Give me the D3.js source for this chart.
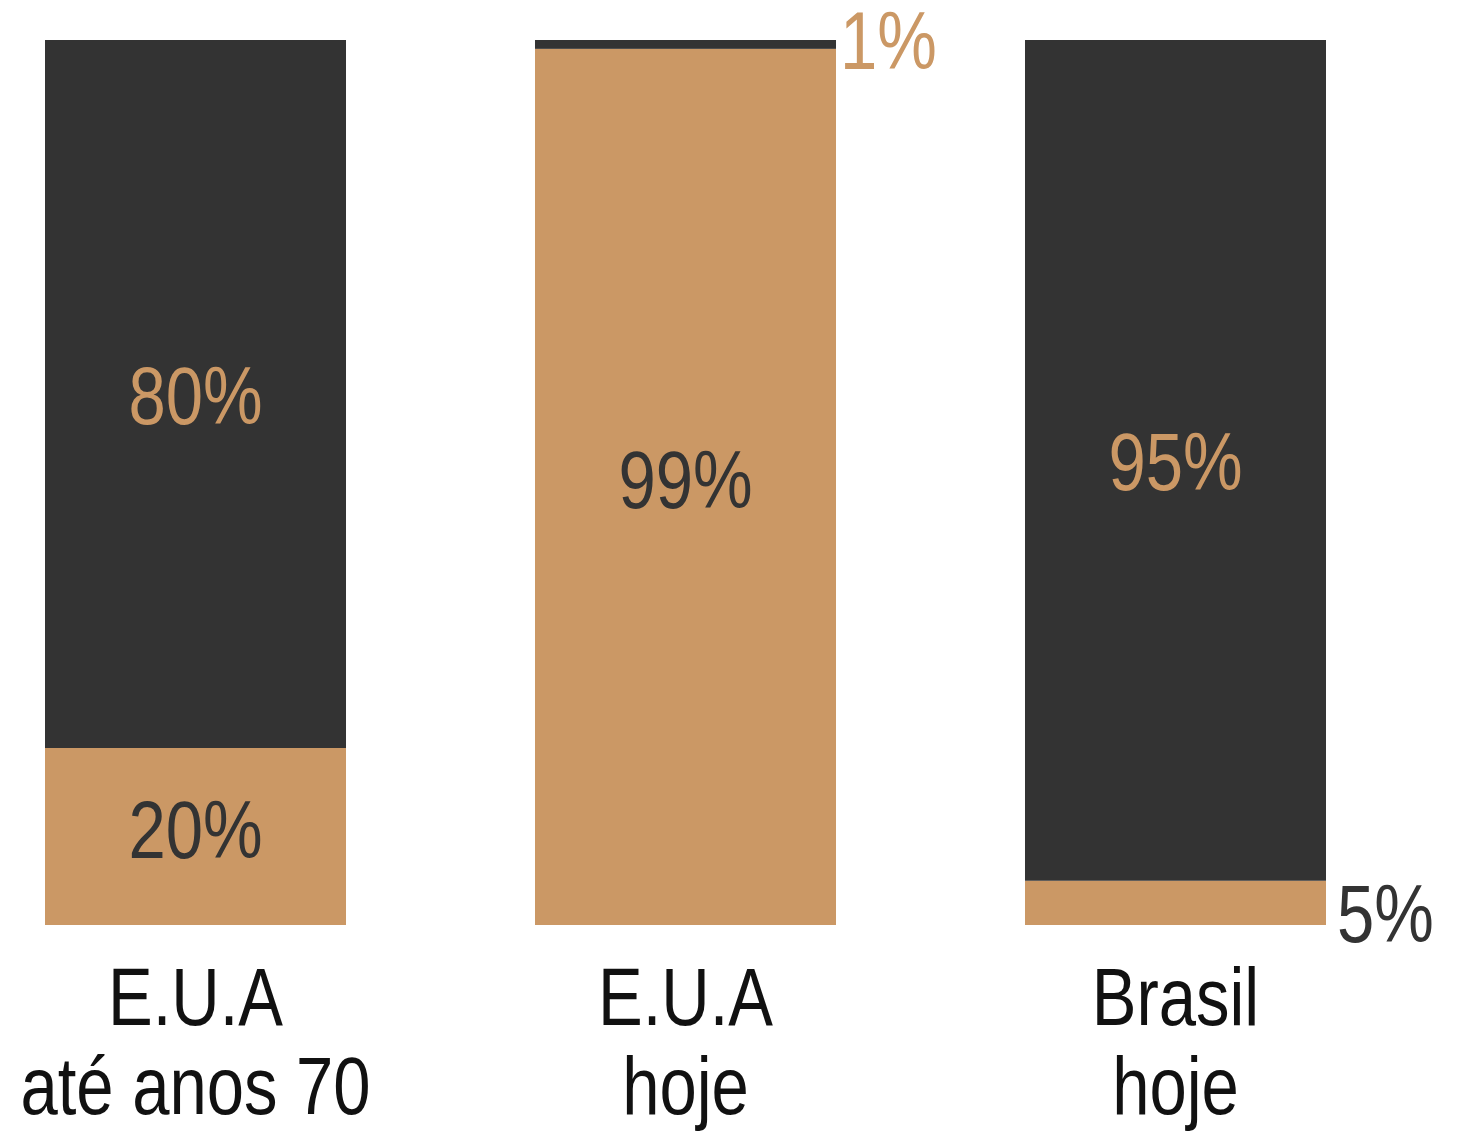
<!DOCTYPE html>
<html>
<head>
<meta charset="utf-8">
<script src="https://cdn.jsdelivr.net/npm/d3@7"></script>
<style>
  html, body { margin: 0; padding: 0; background: #ffffff; }
  svg { display: block; }
  text { font-family: "Liberation Sans", Arial, Helvetica, sans-serif; }
</style>
</head>
<body>
<script>
// ---- data ----
const categories = ["E.U.A|até anos 70", "E.U.A|hoje", "Brasil|hoje"];
const bottomValues = [20, 99, 5];   // tan segment (bottom)
const topValues    = [80, 1, 95];   // dark segment (top)
const valueLabels  = ["%"];

// ---- style ----
const W = 1457, H = 1131;
const DARK = "#333333", TAN = "#cb9865";
const FONT = 67, SY = 1.23;

const svg = d3.select("body").append("svg").attr("width", W).attr("height", H);

const x = d3.scaleBand().domain(categories).range([45, 1326]).paddingInner(0.3857).paddingOuter(0);
const y = d3.scaleLinear().domain([0, 100]).range([925, 40]);

const rows = categories.map((c, i) => ({ cat: c, bottom: bottomValues[i], top: topValues[i] }));

// segments (labelShift: small vertical nudge of inside labels as in the original)
const segs = [];
rows.forEach(r => {
  segs.push({ cat: r.cat, y0: 0, y1: r.bottom, v: r.bottom, fill: TAN, textFill: DARK, labelShift: -8 });
  segs.push({ cat: r.cat, y0: r.bottom, y1: r.bottom + r.top, v: r.top, fill: DARK, textFill: TAN, labelShift: 0 });
});

svg.append("g").selectAll("rect").data(segs).join("rect")
  .attr("x", d => x(d.cat))
  .attr("width", x.bandwidth())
  .attr("y", d => y(d.y1))
  .attr("height", d => y(d.y0) - y(d.y1))
  .attr("fill", d => d.fill);

function addText(g, tx, ty, str, fill, anchor) {
  g.append("text")
    .attr("transform", `translate(${tx},${ty}) scale(1,${SY})`)
    .attr("text-anchor", anchor)
    .attr("font-size", FONT)
    .attr("fill", fill)
    .text(str);
}

const lg = svg.append("g");
const capH = FONT * 0.716 * SY;
segs.forEach(d => {
  const txt = d.v + valueLabels[0];
  const h = y(d.y0) - y(d.y1);
  if (h > 100) {
    const mid = (y(d.y0) + y(d.y1)) / 2;
    addText(lg, x(d.cat) + x.bandwidth() / 2, mid + capH / 2 + d.labelShift, txt, d.textFill, "middle");
  } else {
    // small segment: label outside to the right
    const right = x(d.cat) + x.bandwidth();
    if (d.y1 >= 100) {
      addText(lg, right + 4, y(100) + 29, txt, d.textFill, "start");
    } else {
      addText(lg, right + 11, y(d.y0) + 17, txt, d.textFill, "start");
    }
  }
});

// category labels
const cg = svg.append("g");
categories.forEach(c => {
  const parts = c.split("|");
  const cx = x(c) + x.bandwidth() / 2;
  parts.forEach((p, j) => addText(cg, cx, 1025 + j * 89, p, "#111111", "middle"));
});
</script>
</body>
</html>
